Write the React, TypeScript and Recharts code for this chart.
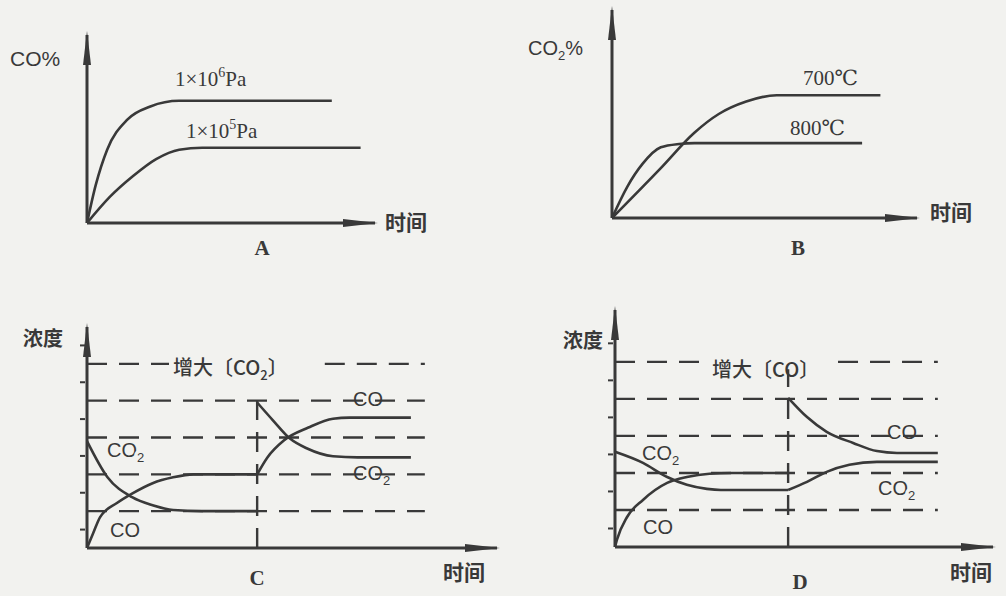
import { LineChart, Line, XAxis, YAxis, ReferenceLine, ReferenceDot } from 'recharts'

type Pt = { t: number; v: number }

const INK = '#393939'
const PAPER = '#f2f2ef'

const sans = '"Liberation Sans", Arial, sans-serif'
const serif = '"Liberation Serif", "DejaVu Serif", serif'
const cjk = '"Noto Sans CJK SC", sans-serif'

const pts = (t: number[], v: number[]): Pt[] => t.map((x, i) => ({ t: x, v: v[i] }))

// A: CO% against time, two pressures
const aHighPressure = pts([0, 3, 7, 14, 22, 32, 85], [0, 20, 39, 55, 62, 65, 65])
const aLowPressure = pts([0, 8, 16, 24, 32, 40, 95], [0, 14, 25, 34, 39, 40, 40])

// B: CO2% against time, two temperatures
const b700 = pts([0, 16, 27, 35, 44, 54, 88], [0, 24, 41, 50, 56, 59, 59])
const b800 = pts([0, 5, 10, 16, 22, 27, 82], [0, 15, 26, 34, 35.6, 36, 36])

// C: concentration, [CO2] raised at cChangeAt
const cChangeAt = 41.5
const cCo2Before = pts([0, 5, 11, 16, 21, 28, 41.5], [2.9, 1.92, 1.38, 1.16, 1.03, 1.0, 1.0])
const cCoBefore = pts([0, 1.5, 3.2, 7.3, 11.2, 16, 21, 26, 41.5], [0, 0.4, 0.84, 1.22, 1.49, 1.76, 1.92, 2.0, 2.0])
const cCo2After = pts([41.5, 45.4, 49.5, 53.7, 60, 66, 79], [3.95, 3.46, 2.97, 2.7, 2.49, 2.46, 2.46])
const cCoAfter = pts([41.5, 44, 48, 54, 60, 64, 79], [2.0, 2.46, 2.92, 3.27, 3.51, 3.54, 3.54])

// D: concentration, [CO] raised at dChangeAt
const dChangeAt = 45.8
const dCo2Before = pts([0, 7.4, 13.8, 19, 24.3, 28, 45.8], [2.57, 2.27, 1.89, 1.68, 1.57, 1.54, 1.54])
const dCoBefore = pts([0, 0.5, 3.2, 7.4, 13.8, 19, 25, 31, 45.8], [0, 0.19, 0.81, 1.27, 1.73, 1.89, 1.98, 2.0, 2.0])
const dCoAfter = pts([45.8, 50.8, 56, 63, 69.3, 74.6, 85.4], [4.03, 3.51, 3.11, 2.81, 2.59, 2.54, 2.54])
const dCo2After = pts([45.8, 50.8, 56, 62, 69.3, 85.4], [1.54, 1.76, 2.03, 2.22, 2.3, 2.3])

const levels = [1, 2, 3, 4, 5]
const halfTicks = [0.5, 1, 1.5, 2, 2.5, 3, 3.5, 4, 4.5, 5, 5.5]

const arrowUp = (p: any) => (
  <polygon points={`${p.cx},${p.cy - 4} ${p.cx - 4},${p.cy + 30} ${p.cx + 4},${p.cy + 30}`} fill={INK} />
)
const arrowRight = (p: any) => (
  <polygon points={`${p.cx + 3},${p.cy} ${p.cx - 32},${p.cy - 4} ${p.cx - 32},${p.cy + 4}`} fill={INK} />
)
// short tick mark on the right of the y axis, no label
const tickMark = (p: any) => (
  <line x1={p.x + 1} x2={p.x + 6} y1={p.y} y2={p.y} stroke={INK} strokeWidth={2} />
)

const Txt = ({ x, y, size = 20, family = sans, anchor = 'start', weight = 400, mask = false, children }: any) => (
  <text
    x={x}
    y={y}
    fontSize={size}
    fontFamily={family}
    fontWeight={weight}
    textAnchor={anchor}
    fill={INK}
    stroke={mask ? PAPER : 'none'}
    strokeWidth={mask ? 7 : 0}
    paintOrder="stroke"
  >
    {children}
  </text>
)

const Sub = ({ c }: { c: string }) => <tspan dy={5} fontSize={13}>{c}</tspan>

const curve = (data: Pt[], key: string) => (
  <Line key={key} data={data} dataKey="v" type="monotone" dot={false} stroke={INK} strokeWidth={2.6} isAnimationActive={false} />
)

const axes = (yMax: number, withTicks: boolean) => [
  <XAxis key="x" type="number" dataKey="t" domain={[0, 100]} hide />,
  <YAxis key="y" type="number" domain={[0, yMax]} width={1} allowDataOverflow
    ticks={withTicks ? halfTicks : [0]} tick={withTicks ? tickMark : false} tickLine={false}
    axisLine={false} />,
  <ReferenceLine key="lx" y={0} stroke={INK} strokeWidth={3} />,
  <ReferenceLine key="ly" x={0} stroke={INK} strokeWidth={3} />,
  <ReferenceDot key="ay" x={0} y={yMax} r={0} shape={arrowUp} />,
  <ReferenceDot key="ax" x={100} y={0} r={0} shape={arrowRight} />,
]

const dashed = (key: string, from: { t: number; v: number }, to: { t: number; v: number }) => (
  <ReferenceLine key={key} segment={[{ x: from.t, y: from.v }, { x: to.t, y: to.v }]} stroke={INK} strokeWidth={2.4} strokeDasharray="20 12" />
)

function PanelA() {
  return (
    <LineChart width={500} height={300} margin={{ top: 35, left: 86, right: 125, bottom: 77 }}>
      {axes(100, false)}
      {curve(aHighPressure, 'hi')}
      {curve(aLowPressure, 'lo')}
      <Txt x={10} y={66} size={21}>CO%</Txt>
      <Txt x={175} y={86} size={21} family={serif}>
        1×10<tspan dy={-9} fontSize={14}>6</tspan><tspan dy={9}>Pa</tspan>
      </Txt>
      <Txt x={186} y={138} size={21} family={serif}>
        1×10<tspan dy={-9} fontSize={14}>5</tspan><tspan dy={9}>Pa</tspan>
      </Txt>
      <Txt x={385} y={230} size={21} family={cjk} weight={700}>时间</Txt>
      <Txt x={262} y={255} size={21} family={serif} weight={700} anchor="middle">A</Txt>
    </LineChart>
  )
}

function PanelB() {
  return (
    <LineChart width={506} height={300} margin={{ top: 10, left: 111, right: 89, bottom: 82 }}>
      {axes(100, false)}
      {curve(b700, 't700')}
      {curve(b800, 't800')}
      <Txt x={28} y={55} size={20}>CO<Sub c="2" /><tspan dy={-5}>%</tspan></Txt>
      <Txt x={303} y={85} size={21} family={serif} letterSpacing={1.5}>700℃</Txt>
      <Txt x={290} y={135} size={21} family={serif}>800℃</Txt>
      <Txt x={430} y={220} size={21} family={cjk} weight={700}>时间</Txt>
      <Txt x={298} y={255} size={21} family={serif} weight={700} anchor="middle">B</Txt>
    </LineChart>
  )
}

function PanelC() {
  const end = 82.4
  return (
    <LineChart width={500} height={296} margin={{ top: 27, left: 86, right: 3, bottom: 48 }}>
      {axes(6, true)}
      {levels.slice(0, 4).map((l) => dashed(`l${l}`, { t: 0, v: l }, { t: end, v: l }))}
      {dashed('top1', { t: 0, v: 5 }, { t: 20, v: 5 })}
      {dashed('top2', { t: 58, v: 5 }, { t: end, v: 5 })}
      {dashed('vert', { t: cChangeAt, v: 0 }, { t: cChangeAt, v: 4.05 })}
      {curve(cCo2Before, 'c2b')}
      {curve(cCoBefore, 'cb')}
      {curve(cCo2After, 'c2a')}
      {curve(cCoAfter, 'ca')}
      <Txt x={23} y={46} family={cjk} weight={700}>浓度</Txt>
      <Txt x={173} y={75} size={20} family={cjk} weight={500}>增大〔CO<Sub c="2" /><tspan dy={-5}>〕</tspan></Txt>
      <Txt x={107} y={157} mask>CO<Sub c="2" /></Txt>
      <Txt x={110} y={237}>CO</Txt>
      <Txt x={353} y={106} mask>CO</Txt>
      <Txt x={353} y={180} mask>CO<Sub c="2" /></Txt>
      <Txt x={257} y={285} size={21} family={serif} weight={700} anchor="middle">C</Txt>
      <Txt x={443} y={280} size={21} family={cjk} weight={700}>时间</Txt>
    </LineChart>
  )
}

function PanelD() {
  const end = 85.4
  return (
    <LineChart width={500} height={296} margin={{ top: 10, left: 108, right: 13, bottom: 49 }}>
      {axes(6.4, true)}
      {levels.slice(0, 4).map((l) => dashed(`l${l}`, { t: 0, v: l }, { t: end, v: l }))}
      {dashed('top1', { t: 0, v: 5 }, { t: 24.6, v: 5 })}
      {dashed('top2', { t: 59, v: 5 }, { t: end, v: 5 })}
      {dashed('vert', { t: dChangeAt, v: 0 }, { t: dChangeAt, v: 4.8 })}
      {curve(dCo2Before, 'd2b')}
      {curve(dCoBefore, 'db')}
      {curve(dCoAfter, 'da')}
      {curve(dCo2After, 'd2a')}
      <Txt x={57} y={48} family={cjk} weight={700}>浓度</Txt>
      <Txt x={206} y={77} size={20} family={cjk} weight={500}>增大〔CO〕</Txt>
      <Txt x={136} y={160} mask>CO<Sub c="2" /></Txt>
      <Txt x={137} y={234}>CO</Txt>
      <Txt x={381} y={139} mask>CO</Txt>
      <Txt x={372} y={195} mask>CO<Sub c="2" /></Txt>
      <Txt x={294} y={289} size={21} family={serif} weight={700} anchor="middle">D</Txt>
      <Txt x={444} y={280} size={21} family={cjk} weight={700}>时间</Txt>
    </LineChart>
  )
}

export default function App() {
  return (
    <div style={{ position: 'absolute', left: 0, top: 0, width: 1006, height: 596, background: PAPER, overflow: 'hidden' }}>
      <div style={{ position: 'absolute', left: 0, top: 0 }}><PanelA /></div>
      <div style={{ position: 'absolute', left: 500, top: 0 }}><PanelB /></div>
      <div style={{ position: 'absolute', left: 0, top: 300 }}><PanelC /></div>
      <div style={{ position: 'absolute', left: 506, top: 300 }}><PanelD /></div>
    </div>
  )
}
